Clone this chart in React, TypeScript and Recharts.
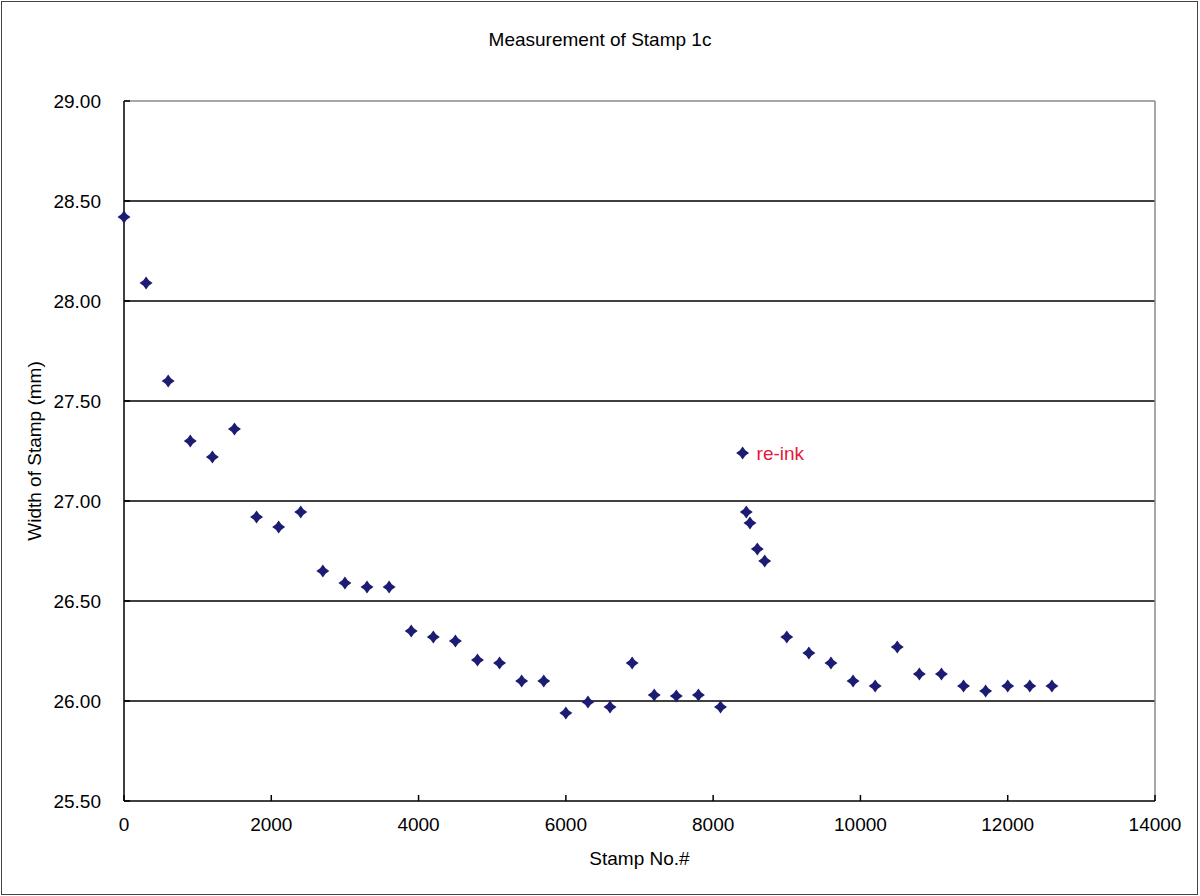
import {
  ScatterChart,
  Scatter,
  XAxis,
  YAxis,
  ReferenceLine,
  LabelList,
} from "recharts";

const stampNos = [
  0, 300, 600, 900, 1200, 1500, 1800, 2100, 2400, 2700, 3000, 3300, 3600,
  3900, 4200, 4500, 4800, 5100, 5400, 5700, 6000, 6300, 6600, 6900, 7200,
  7500, 7800, 8100, 8400, 8450, 8500, 8600, 8700, 9000, 9300, 9600, 9900,
  10200, 10500, 10800, 11100, 11400, 11700, 12000, 12300, 12600,
];

const widths = [
  28.42, 28.09, 27.6, 27.3, 27.22, 27.36, 26.92, 26.87, 26.945, 26.65, 26.59,
  26.57, 26.57, 26.35, 26.32, 26.3, 26.205, 26.19, 26.1, 26.1, 25.94, 25.995,
  25.97, 26.19, 26.03, 26.025, 26.03, 25.97, 27.24, 26.945, 26.89, 26.76,
  26.7, 26.32, 26.24, 26.19, 26.1, 26.075, 26.27, 26.135, 26.135, 26.075,
  26.05, 26.075, 26.075, 26.075,
];

const noteIndex = 28;
const noteText = "re-ink";

const xTicks = [0, 2000, 4000, 6000, 8000, 10000, 12000, 14000];
const yTicks = [25.5, 26, 26.5, 27, 27.5, 28, 28.5, 29];
const gridValues = [26, 26.5, 27, 27.5, 28, 28.5];

const data = stampNos.map((x, i) => ({
  x,
  y: widths[i],
  note: i === noteIndex ? noteText : undefined,
}));

const font = "'Liberation Sans', Arial, sans-serif";
const markerColor = "#1c1c73";

// four-pointed star marker, like Excel's diamond with pinched sides
const Star = (props: any) => {
  const { cx, cy } = props;
  if (cx == null || cy == null) return null;
  const r = 6.5;
  const k = 2.7;
  const d = `M${cx},${cy - r} L${cx + k},${cy - k} L${cx + r},${cy} L${cx + k},${cy + k} L${cx},${cy + r} L${cx - k},${cy + k} L${cx - r},${cy} L${cx - k},${cy - k} Z`;
  return <path d={d} fill={markerColor} />;
};

export default function App() {
  return (
    <div
      style={{
        position: "absolute",
        left: 0,
        top: 0,
        width: 1200,
        height: 896,
        background: "#fff",
        fontFamily: font,
      }}
    >
      <div
        style={{
          position: "absolute",
          left: 1,
          top: 1,
          width: 1197,
          height: 894,
          border: "1.5px solid #444",
          boxSizing: "border-box",
        }}
      />
      <div
        style={{
          position: "absolute",
          left: 0,
          top: 30,
          width: 1200,
          textAlign: "center",
          fontSize: 19,
          lineHeight: "20px",
          color: "#000",
        }}
      >
        Measurement of Stamp 1c
      </div>
      <ScatterChart
        width={1200}
        height={896}
        margin={{ top: 101, right: 45, bottom: 0, left: 0 }}
        style={{ position: "absolute", left: 0, top: 0 }}
      >
        {gridValues.map((v) => (
          <ReferenceLine key={v} y={v} stroke="#000" strokeWidth={1.5} />
        ))}
        <ReferenceLine y={29} stroke="#8a8a8a" strokeWidth={1.5} />
        <ReferenceLine x={14000} stroke="#8a8a8a" strokeWidth={1.5} />
        <XAxis
          type="number"
          dataKey="x"
          domain={[0, 14000]}
          ticks={xTicks}
          height={95}
          tickSize={-6}
          tickMargin={23}
          axisLine={{ stroke: "#000", strokeWidth: 1.5 }}
          tickLine={{ stroke: "#000", strokeWidth: 1.5 }}
          tick={{ fill: "#000", fontSize: 19, fontFamily: font }}
          label={{
            value: "Stamp No.#",
            position: "insideBottom",
            offset: 31,
            style: { fill: "#000", fontSize: 19, fontFamily: font },
          }}
        />
        <YAxis
          type="number"
          dataKey="y"
          domain={[25.5, 29]}
          ticks={yTicks}
          width={124}
          tickSize={-6}
          tickMargin={29}
          tickFormatter={(v: number) => v.toFixed(2)}
          axisLine={{ stroke: "#000", strokeWidth: 1.5 }}
          tickLine={{ stroke: "#000", strokeWidth: 1.5 }}
          tick={{ fill: "#000", fontSize: 19, fontFamily: font }}
          label={{
            value: "Width of Stamp (mm)",
            position: "insideLeft",
            angle: -90,
            offset: 34,
            style: {
              fill: "#000",
              fontSize: 19,
              fontFamily: font,
              textAnchor: "middle",
            },
          }}
        />
        <Scatter data={data} shape={Star} isAnimationActive={false}>
          <LabelList
            dataKey="note"
            position="right"
            offset={9.5}
            fill="#e8173a"
            fontSize={19}
            fontFamily={font}
          />
        </Scatter>
      </ScatterChart>
    </div>
  );
}
